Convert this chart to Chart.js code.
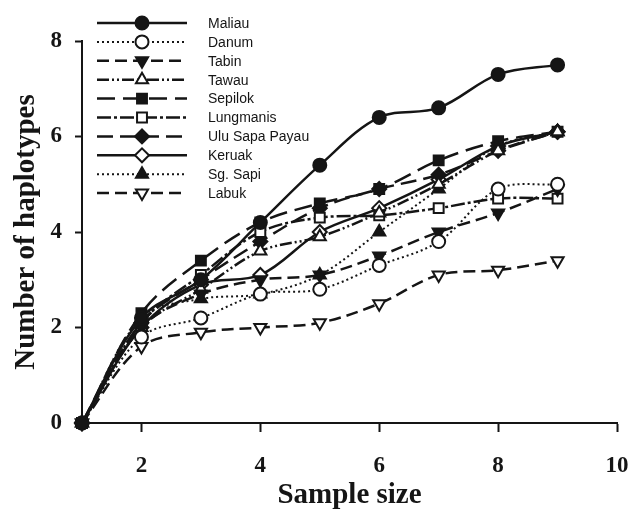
<!DOCTYPE html>
<html>
<head>
<meta charset="utf-8">
<script src="https://cdn.jsdelivr.net/npm/chart.js@4/dist/chart.umd.min.js"></script>
<style>
  html, body { margin: 0; padding: 0; background: #fff; }
  #wrap { width: 631px; height: 516px; }
</style>
</head>
<body>
<div id="wrap"><canvas id="myChart" width="631" height="516"></canvas></div>
<script>
// data
const sampleSizes = [1, 2, 3, 4, 5, 6, 7, 8, 9];
const xTickValues = [2, 4, 6, 8, 10];

const maliau       = [0, 2.2, 3.0, 4.2, 5.4, 6.4, 6.6, 7.3, 7.5];
const danum        = [0, 1.8, 2.2, 2.7, 2.8, 3.3, 3.8, 4.9, 5.0];
const tabin        = [0, 2.0, 2.7, 3.0, 3.1, 3.5, 4.0, 4.4, 4.9];
const tawau        = [0, 2.0, 2.8, 3.6, 3.9, 4.4, 5.0, 5.7, 6.1];
const sepilok      = [0, 2.3, 3.4, 4.2, 4.6, 4.9, 5.5, 5.9, 6.1];
const lungmanis    = [0, 2.1, 3.1, 4.0, 4.3, 4.35, 4.5, 4.7, 4.7];
const uluSapaPayau = [0, 2.1, 3.0, 3.8, 4.5, 4.9, 5.2, 5.7, 6.1];
const keruak       = [0, 2.0, 2.9, 3.1, 4.0, 4.5, 5.1, 5.8, 6.1];
const sgSapi       = [0, 2.2, 2.6, 2.7, 3.1, 4.0, 4.9, 5.8, 6.1];
const labuk        = [0, 1.6, 1.9, 2.0, 2.1, 2.5, 3.1, 3.2, 3.4];

const INK = '#151515';

// name, values, point style, rotation, filled, dash
const series = [
    ['Maliau', maliau, 'circle', 0, true, []],
    ['Danum', danum, 'circle', 0, false, [2, 3]],
    ['Tabin', tabin, 'triangle', 180, true, [12, 6]],
    ['Tawau', tawau, 'triangle', 0, false, [12, 3, 2, 3, 2, 3]],
    ['Sepilok', sepilok, 'rect', 0, true, [18, 8]],
    ['Lungmanis', lungmanis, 'rect', 0, false, [14, 3, 3, 3]],
    ['Ulu Sapa Payau', uluSapaPayau, 'rectRot', 0, true, [16, 7]],
    ['Keruak', keruak, 'rectRot', 0, false, []],
    ['Sg. Sapi', sgSapi, 'triangle', 0, true, [2, 3]],
    ['Labuk', labuk, 'triangle', 180, false, [12, 6]]
];

const datasets = series.map(([name, values, style, rot, filled, dash]) => ({
    label: name,
    data: values.map((v, i) => ({x: sampleSizes[i], y: v})),
    borderColor: INK,
    borderWidth: dash.length && dash[0] === 2 ? 2 : 2.5,
    borderDash: dash,
    tension: 0.35,
    pointStyle: style,
    rotation: rot,
    pointRadius: style === 'circle' ? 6.5 : 7,
    pointBorderWidth: 2,
    pointBorderColor: INK,
    pointBackgroundColor: filled ? INK : '#fff',
    clip: false
}));

// legend drawn like the figure: line sample with the marker in the middle
const sampleLegend = {
    id: 'sampleLegend',
    afterDraw(chart) {
        const ctx = chart.ctx;
        ctx.save();
        chart.data.datasets.forEach((ds, i) => {
            const y = 23 + i * 18.9;
            ctx.strokeStyle = INK;
            ctx.lineWidth = ds.borderWidth;
            ctx.setLineDash(ds.borderDash);
            ctx.beginPath();
            ctx.moveTo(97, y);
            ctx.lineTo(187, y);
            ctx.stroke();
            ctx.setLineDash([]);
            ctx.fillStyle = ds.pointBackgroundColor;
            ctx.lineWidth = 2;
            Chart.helpers.drawPoint(ctx, {
                pointStyle: ds.pointStyle,
                rotation: ds.rotation,
                radius: ds.pointRadius,
                borderWidth: 2
            }, 142, y);
            ctx.fillStyle = INK;
            ctx.font = '14px "Liberation Sans", Arial, sans-serif';
            ctx.textBaseline = 'middle';
            ctx.fillText(ds.label, 208, y + 1);
        });
        ctx.restore();
    }
};

const serif = '"Liberation Serif", "Times New Roman", serif';

new Chart(document.getElementById('myChart'), {
    type: 'line',
    data: { datasets: datasets },
    options: {
        responsive: false,
        animation: false,
        layout: { padding: { left: 0, right: 14, top: 41, bottom: 0 } },
        plugins: { legend: { display: false }, tooltip: { enabled: false } },
        scales: {
            x: {
                type: 'linear',
                min: 1,
                max: 10,
                afterBuildTicks: (axis) => {
                    axis.ticks = xTickValues.map(v => ({value: v}));
                },
                afterFit: (axis) => {
                    axis.height = 93;
                    axis.paddingLeft = 0;
                    axis.paddingRight = 0;
                },
                border: { color: INK, width: 2 },
                grid: { drawOnChartArea: false, tickLength: 9, tickWidth: 2, tickColor: INK },
                ticks: { color: INK, padding: 20, maxRotation: 0, font: { family: serif, size: 23, weight: 'bold' } },
                title: {
                    display: true,
                    text: 'Sample size',
                    color: INK,
                    padding: { top: 0, bottom: 3 },
                    font: { family: serif, size: 29, weight: 'bold' }
                }
            },
            y: {
                min: 0,
                max: 8,
                ticks: { stepSize: 2, color: INK, padding: 13, font: { family: serif, size: 23, weight: 'bold' } },
                afterFit: (axis) => { axis.width = 82; },
                border: { color: INK, width: 2 },
                grid: { drawOnChartArea: false, tickLength: 7, tickWidth: 2, tickColor: INK },
                title: {
                    display: true,
                    text: 'Number of haplotypes',
                    color: INK,
                    padding: { top: 9, bottom: 0 },
                    font: { family: serif, size: 29, weight: 'bold' }
                }
            }
        }
    },
    plugins: [sampleLegend]
});
</script>
</body>
</html>
